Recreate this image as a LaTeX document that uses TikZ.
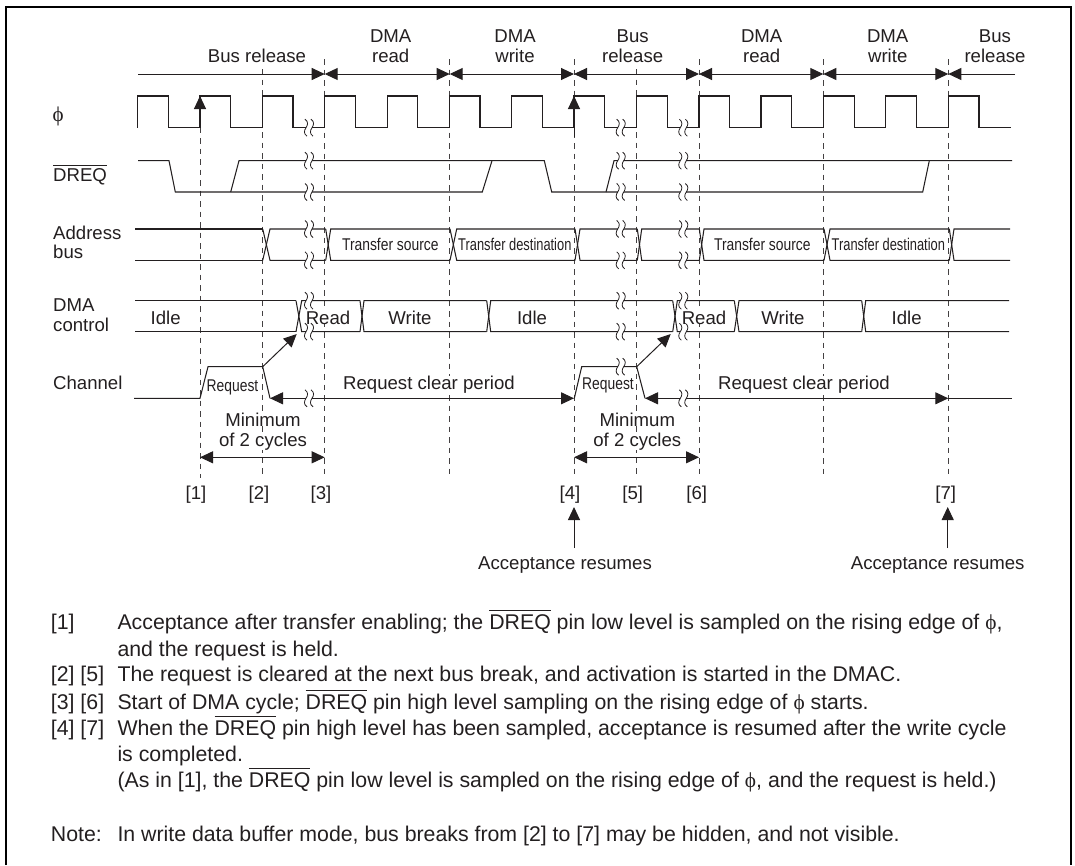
\documentclass[tikz,border=0pt]{standalone}
\usepackage{fontspec}
\setmainfont{Liberation Sans}
\newfontfamily\narrowfont[FakeStretch=0.815]{Liberation Sans}
\newfontfamily\tighterfont[FakeStretch=0.757]{Liberation Sans}
\newfontfamily\symfont{Liberation Serif}
\usetikzlibrary{arrows.meta}
\definecolor{ink}{HTML}{231F20}
\newcommand{\barred}[2]{\setbox0\hbox{#2}\rlap{\rule[#1]{\wd0}{0.8pt}}\box0}
\newcommand{\dreqbody}{\barred{18.5pt}{DREQ}}
\newcommand{\phibody}{{\symfont ϕ}}
\tikzset{
  sig/.style={line width=1.05pt,ink,line join=miter},
  guide/.style={line width=0.9pt,ink!85,dash pattern=on 5.5pt off 5pt},
  head/.style={line width=1pt,ink,-{Triangle[length=13pt,width=12pt]}},
  both/.style={line width=1pt,ink,{Triangle[length=13pt,width=12pt]}-{Triangle[length=13pt,width=12pt]}},
  lab/.style={anchor=base,inner sep=0pt,fill=white,text=ink,font=\fontsize{18.6}{20}\selectfont},
  siglab/.style={lab,anchor=base west},
  thinlab/.style={anchor=base,inner sep=0pt,text=ink,font=\fontsize{17}{19}\selectfont\narrowfont},
  bodytext/.style={anchor=base west,inner sep=0pt,text=ink,font=\fontsize{21.3}{26}\selectfont},
  cut/.pic={
    \fill[white] (-3,-2.5) rectangle (3,2.5);
    \foreach \s in {-3,3}{
      \draw[line width=0.8pt,ink] (\s-1,-8.5) .. controls (\s+2.5,-6) and (\s+2,-3) .. (\s,0)
        .. controls (\s-2,3) and (\s-2.5,6) .. (\s+1,8.5);
    }
  }
}
\begin{document}
\begin{tikzpicture}[x=1pt,y=-1pt]
  \useasboundingbox (0,0) rectangle (1075,865);
  % Outer frame, open at the bottom edge
  \draw[line width=2.3pt,black] (6,865) -- (6,6.8) -- (1071,6.8) -- (1071,865);
  % Guides: x / top end
  \foreach \x/\t in {200/96, 262.3/69, 324.7/59, 449.7/59, 574/59, 636.7/69, 699/59, 823.3/59, 948.3/59}{
    \draw[guide] (\x,\t) -- (\x,478);
  }
  % Phase arrows along the top
  \draw[head] (138,74) -- (324.7,74);
  \foreach \a/\b in {324.7/449.7, 449.7/574, 574/699, 699/823.3, 823.3/948.3}{
    \draw[both] (\a,74) -- (\b,74);
  }
  \draw[head] (1015,74) -- (948.3,74);
  % Clock: rise / fall / next rise
  \foreach \a/\b/\c in {137.3/168.3/200, 200/230.7/262.3, 262.3/293/324.7, 324.7/355.3/387.3,
    387.3/417.7/449.7, 449.7/480/511.7, 511.7/542.3/574, 574/604.3/636.7, 636.7/667.3/699,
    699/729.3/761, 761/791.7/823.3, 823.3/854.3/885.7, 885.7/916.3/948.3, 948.3/979/1010.7}{
    \draw[sig] (\a,127.7) -- (\a,96) -- (\b,96) -- (\b,127.7) -- (\c,127.7);
  }
  \draw[head] (200,127.7) -- (200,96);
  \draw[head] (574,137) -- (574,96);
  % DREQ
  \draw[sig] (138,160.7) -- (169,160.7) -- (175.3,192) -- (482.3,192) -- (492,160.7);
  \draw[sig] (230.7,192) -- (239,160.7) -- (544.3,160.7) -- (551.7,192) -- (922.7,192) -- (929.3,160.7);
  \draw[sig] (606,192) -- (614,160.7) -- (1012,160.7);
  % Address bus: crossing start / crossing end / next crossing
  \draw[sig] (135,229) -- (262.7,229) (135,260.3) -- (262.7,260.3);
  \foreach \a/\b/\c in {262.7/270/325.7, 325.7/330.7/450, 450/456.7/575, 575/580/637.3,
    637.3/641.7/699.3, 699.3/704/824, 824/830/949.3, 949.3/954/1010}{
    \draw[sig] (\a,229) -- (\b,260.3) -- (\c,260.3);
    \draw[sig] (\a,260.3) -- (\b,229) -- (\c,229);
  }
  % DMA control
  \draw[sig] (135,300.7) -- (296,300.7) (135,331.7) -- (296,331.7);
  \foreach \a/\b/\c in {296/301.7/360, 360/364/486.7, 486.7/490.7/672.7, 672.7/677.3/734.3,
    734.3/739/861.7, 861.7/865.7/1009}{
    \draw[sig] (\a,300.7) -- (\b,331.7) -- (\c,331.7);
    \draw[sig] (\a,331.7) -- (\b,300.7) -- (\c,300.7);
  }
  % Channel
  \draw[sig] (134,398.3) -- (200,398.3) -- (208,366.7) -- (262.7,366.7) -- (270,398.3);
  \draw[sig] (574.3,398.3) -- (581.7,366.7) -- (636.7,366.7) -- (645,398.3);
  \draw[both] (270,398.3) -- (574,398.3);
  \draw[both] (645,398.3) -- (948.3,398.3);
  \draw[sig] (948.3,398.3) -- (1012,398.3);
  \draw[head] (262.7,366.7) -- (296.7,334);
  \draw[head] (636.7,366.7) -- (670.7,334);
  % Minimum spans
  \draw[both] (200,457.3) -- (324.7,457.3);
  \draw[both] (574,457.3) -- (699,457.3);
  % Labels along the top and inside the lanes
  \foreach \x/\y/\txt [count=\i] in {257/62/Bus release, 390.7/42/DMA, 390.7/62/read, 515/42/DMA, 515/62/write,
    632.7/42/Bus, 632.7/62/release, 761.7/42/DMA, 761.7/62/read, 887.7/42/DMA, 887.7/62/write,
    995/42/Bus, 995/62/release, 165.7/324/Idle, 328/324/Read, 410/324/Write, 532/324/Idle,
    704/324/Read, 783/324/Write, 906.7/324/Idle, 429/389/Request clear period, 804/389/Request clear period,
    263/426/Minimum, 263/446/of 2 cycles, 637.3/426/Minimum, 637.3/446/of 2 cycles,
    196/499/{[1]}, 259/499/{[2]}, 321/499/{[3]}, 570/499/{[4]}, 632.7/499/{[5]}, 696.7/499/{[6]}, 945.7/499/{[7]},
    565/569/Acceptance resumes, 937.7/569/Acceptance resumes}{
    \node[lab] (lab\i) at (\x,\y) {\txt};
  }
  % Line breaks
  \foreach \y in {127.7,160.7,192,229,260.3,300.7,331.7}{
    \foreach \x in {309,620.7,683.3}{
      \pic at (\x,\y) {cut};
    }
  }
  \pic at (309,398.3) {cut};
  \pic at (683.3,398.3) {cut};
  \pic at (620.7,366.7) {cut};
  % Condensed labels
  \node[thinlab] (srcA) at (390.3,250) {Transfer source};
  \node[thinlab] (srcB) at (762.3,250) {Transfer source};
  \node[thinlab,font=\fontsize{17}{19}\selectfont\tighterfont] (dstA) at (514.8,250) {Transfer destination};
  \node[thinlab,font=\fontsize{17}{19}\selectfont\tighterfont] (dstB) at (888.3,250) {Transfer destination};
  \node[thinlab] (reqA) at (232.5,391) {Request};
  \node[thinlab] (reqB) at (608,389.3) {Request};
  % Signal names
  \node[siglab,font=\fontsize{21}{24}\selectfont\symfont] (phiName) at (52.5,121) {ϕ};
  \node[siglab] (dreqName) at (53,181.7) {\barred{15.5pt}{DREQ}};
  \foreach \y/\txt [count=\i] in {239.3/Address, 258.7/bus, 311/DMA, 331/control, 389/Channel}{
    \node[siglab] (name\i) at (53,\y) {\txt};
  }
  % Acceptance arrows
  \coordinate (footA) at (574,548);
  \coordinate (tipA) at (574,507);
  \coordinate (footB) at (947.7,548);
  \coordinate (tipB) at (947.7,507);
  \draw[head] (footA) -- (tipA);
  \draw[head] (footB) -- (tipB);
  % Notes
  \foreach \y/\txt [count=\i] in {629/{[1]}, 681.7/{[2] [5]}, 709/{[3] [6]}, 735.7/{[4] [7]}, 841.7/Note:}{
    \node[bodytext] (mark\i) at (50.7,\y) {\txt};
  }
  \node[bodytext] (noteA) at (117.3,629) {Acceptance after transfer enabling; the \dreqbody{} pin low level is sampled on the rising edge of \phibody,};
  \node[bodytext] (noteB) at (117.3,656) {and the request is held.};
  \node[bodytext] (noteC) at (117.3,681.7) {The request is cleared at the next bus break, and activation is started in the DMAC.};
  \node[bodytext] (noteD) at (117.3,709) {Start of DMA cycle; \dreqbody{} pin high level sampling on the rising edge of \phibody{} starts.};
  \node[bodytext] (noteE) at (117.3,735.7) {When the \dreqbody{} pin high level has been sampled, acceptance is resumed after the write cycle};
  \node[bodytext] (noteF) at (117.3,761.7) {is completed.};
  \node[bodytext] (noteG) at (117.3,787.7) {(As in [1], the \dreqbody{} pin low level is sampled on the rising edge of \phibody, and the request is held.)};
  \node[bodytext] (noteH) at (117.3,841.7) {In write data buffer mode, bus breaks from [2] to [7] may be hidden, and not visible.};
\end{tikzpicture}
\end{document}
